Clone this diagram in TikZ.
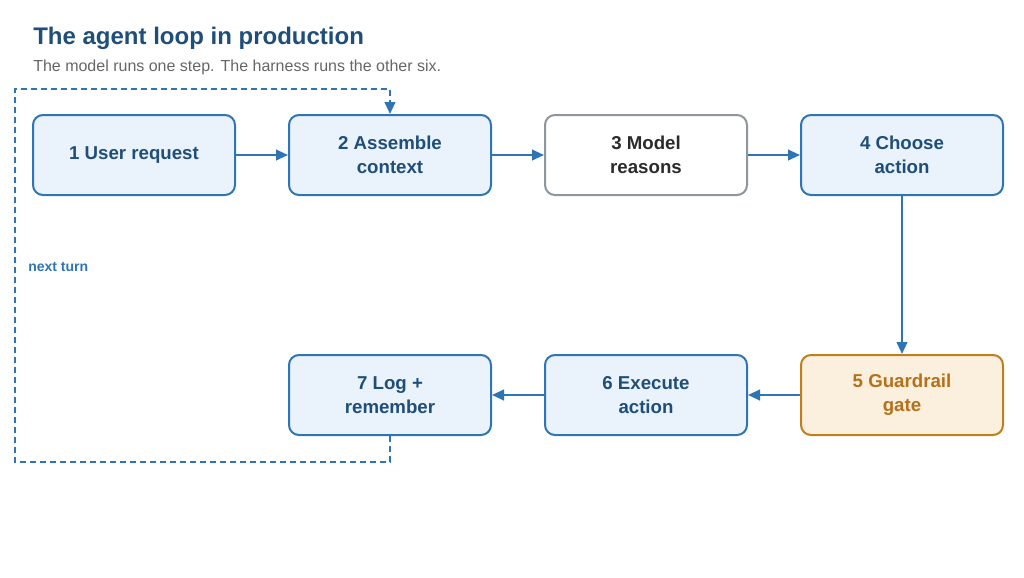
\documentclass[tikz,border=0pt]{standalone}
\usepackage{fontspec}
\setmainfont{Liberation Sans}
\usetikzlibrary{arrows.meta}
\definecolor{bb}{HTML}{2E75B6}
\definecolor{bf}{HTML}{EAF2FB}
\definecolor{bt}{HTML}{1F4E79}
\definecolor{gb}{HTML}{8E959C}
\definecolor{gt}{HTML}{2B2B2B}
\definecolor{ob}{HTML}{C07F1E}
\definecolor{of}{HTML}{FBEFDD}
\definecolor{ot}{HTML}{B5711A}
\begin{document}
\begin{tikzpicture}[x=0.75pt,y=-0.75pt,
 box/.style={draw=bb,fill=bf,text=bt,line width=1.5pt,rounded corners=7.5pt,minimum width=151.5pt,minimum height=60pt,align=center,font=\fontsize{14}{18}\selectfont\bfseries,inner sep=0pt},
 gray/.style={box,draw=gb,fill=white,text=gt},
 orange/.style={box,draw=ob,fill=of,text=ot},
 arr/.style={draw=bb,line width=1.5pt,-{Triangle[length=9pt,width=8pt]}},
 loopline/.style={draw=bb,line width=1.5pt,dash pattern=on 4.5pt off 3pt}]
\useasboundingbox (0,0) rectangle (1024,578);
\node[anchor=west,text=bt,font=\fontsize{18}{22}\selectfont\bfseries,inner sep=0pt] (title) at (33,38) {The agent loop in production};
\node[anchor=west,text=black!60,font=\fontsize{12}{15}\selectfont,inner sep=0pt] (sub) at (33,67) {The model runs one step. The harness runs the other six.};
\node[box] (b1) at (134,155) {1 User request};
\node[box] (b2) at (390,155) {2 Assemble\\context};
\node[gray] (b3) at (646,155) {3 Model\\reasons};
\node[box] (b4) at (902,155) {4 Choose\\action};
\node[orange] (b5) at (902,395) {5 Guardrail\\gate};
\node[box] (b6) at (646,395) {6 Execute\\action};
\node[box] (b7) at (390,395) {7 Log +\\remember};
\draw[arr] (b1) -- (b2);
\draw[arr] (b2) -- (b3);
\draw[arr] (b3) -- (b4);
\draw[arr] (b4) -- (b5);
\draw[arr] (b5) -- (b6);
\draw[arr] (b6) -- (b7);
\coordinate (c1) at (390,462);
\coordinate (c2) at (15,462);
\coordinate (c3) at (15,89);
\coordinate (c4) at (390,89);
\coordinate (c5) at (390,100);
\draw[loopline] (b7.south) -- (c1) -- (c2) -- (c3) -- (c4) -- (c5);
\draw[arr] (c5) -- (b2.north);
\node[anchor=west,text=bb,font=\fontsize{10.5}{13}\selectfont\bfseries,inner sep=0pt] (nt) at (28,267) {next turn};
\end{tikzpicture}
\end{document}
